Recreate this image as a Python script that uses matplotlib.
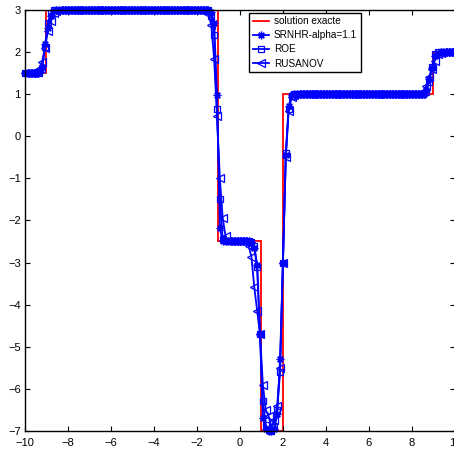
import matplotlib
matplotlib.use('Agg')
import matplotlib.pyplot as plt
import numpy as np

plt.rcParams['font.family'] = ['Liberation Sans', 'DejaVu Sans']

# solution exacte : paliers constants entre les discontinuites
bords = [-10, -9, -1, 1, 2, 9, 10]
paliers = [1.5, 3.0, -2.5, -7.0, 1.0, 2.0]

# maillage des schemas numeriques (151 noeuds sur [-10, 10])
x = np.linspace(-10, 10, 151)

srnhr = [
    1.5, 1.5, 1.5, 1.5, 1.5, 1.52, 1.65, 2.2, 2.57, 2.85,
    2.97, 3.0, 3.0, 3.0, 3.0, 3.0, 3.0, 3.0, 3.0, 3.0,
    3.0, 3.0, 3.0, 3.0, 3.0, 3.0, 3.0, 3.0, 3.0, 3.0,
    3.0, 3.0, 3.0, 3.0, 3.0, 3.0, 3.0, 3.0, 3.0, 3.0,
    3.0, 3.0, 3.0, 3.0, 3.0, 3.0, 3.0, 3.0, 3.0, 3.0,
    3.0, 3.0, 3.0, 3.0, 3.0, 3.0, 3.0, 3.0, 3.0, 3.0,
    3.0, 3.0, 3.0, 3.0, 3.0, 2.95, 2.7, 0.98, -2.19, -2.5,
    -2.5, -2.5, -2.5, -2.5, -2.5, -2.5, -2.5, -2.5, -2.5, -2.52,
    -2.66, -3.05, -4.7, -6.7, -6.95, -7.0, -7.0, -6.95, -6.6, -5.3,
    -3.0, -0.45, 0.72, 0.97, 1.0, 1.0, 1.0, 1.0, 1.0, 1.0,
    1.0, 1.0, 1.0, 1.0, 1.0, 1.0, 1.0, 1.0, 1.0, 1.0,
    1.0, 1.0, 1.0, 1.0, 1.0, 1.0, 1.0, 1.0, 1.0, 1.0,
    1.0, 1.0, 1.0, 1.0, 1.0, 1.0, 1.0, 1.0, 1.0, 1.0,
    1.0, 1.0, 1.0, 1.0, 1.0, 1.0, 1.0, 1.0, 1.0, 1.02,
    1.1, 1.35, 1.62, 1.9, 1.99, 2.0, 2.0, 2.0, 2.0, 2.0,
    2.0,
]

roe = [
    1.5, 1.5, 1.5, 1.5, 1.5, 1.51, 1.6, 2.13, 2.7, 2.92,
    2.99, 3.0, 3.0, 3.0, 3.0, 3.0, 3.0, 3.0, 3.0, 3.0,
    3.0, 3.0, 3.0, 3.0, 3.0, 3.0, 3.0, 3.0, 3.0, 3.0,
    3.0, 3.0, 3.0, 3.0, 3.0, 3.0, 3.0, 3.0, 3.0, 3.0,
    3.0, 3.0, 3.0, 3.0, 3.0, 3.0, 3.0, 3.0, 3.0, 3.0,
    3.0, 3.0, 3.0, 3.0, 3.0, 3.0, 3.0, 3.0, 3.0, 3.0,
    3.0, 3.0, 3.0, 3.0, 3.0, 2.85, 2.41, 0.64, -1.5, -2.45,
    -2.5, -2.5, -2.5, -2.5, -2.5, -2.5, -2.5, -2.5, -2.5, -2.52,
    -2.6, -3.1, -4.7, -6.3, -6.85, -6.98, -7.0, -6.9, -6.5, -5.6,
    -3.0, -0.4, 0.65, 0.96, 1.0, 1.0, 1.0, 1.0, 1.0, 1.0,
    1.0, 1.0, 1.0, 1.0, 1.0, 1.0, 1.0, 1.0, 1.0, 1.0,
    1.0, 1.0, 1.0, 1.0, 1.0, 1.0, 1.0, 1.0, 1.0, 1.0,
    1.0, 1.0, 1.0, 1.0, 1.0, 1.0, 1.0, 1.0, 1.0, 1.0,
    1.0, 1.0, 1.0, 1.0, 1.0, 1.0, 1.0, 1.0, 1.0, 1.0,
    1.05, 1.3, 1.65, 1.95, 2.0, 2.0, 2.0, 2.0, 2.0, 2.0,
    2.0,
]

rusanov = [
    1.5, 1.5, 1.5, 1.5, 1.52, 1.6, 1.77, 2.1, 2.5, 2.75,
    2.92, 2.98, 3.0, 3.0, 3.0, 3.0, 3.0, 3.0, 3.0, 3.0,
    3.0, 3.0, 3.0, 3.0, 3.0, 3.0, 3.0, 3.0, 3.0, 3.0,
    3.0, 3.0, 3.0, 3.0, 3.0, 3.0, 3.0, 3.0, 3.0, 3.0,
    3.0, 3.0, 3.0, 3.0, 3.0, 3.0, 3.0, 3.0, 3.0, 3.0,
    3.0, 3.0, 3.0, 3.0, 3.0, 3.0, 3.0, 3.0, 3.0, 3.0,
    3.0, 3.0, 3.0, 2.98, 2.9, 2.64, 1.83, 0.47, -1.0, -1.95,
    -2.38, -2.5, -2.5, -2.5, -2.5, -2.5, -2.5, -2.52, -2.6, -2.86,
    -3.58, -4.15, -4.7, -5.9, -6.5, -6.65, -6.9, -6.75, -6.4, -5.5,
    -3.0, -0.5, 0.6, 0.93, 0.99, 1.0, 1.0, 1.0, 1.0, 1.0,
    1.0, 1.0, 1.0, 1.0, 1.0, 1.0, 1.0, 1.0, 1.0, 1.0,
    1.0, 1.0, 1.0, 1.0, 1.0, 1.0, 1.0, 1.0, 1.0, 1.0,
    1.0, 1.0, 1.0, 1.0, 1.0, 1.0, 1.0, 1.0, 1.0, 1.0,
    1.0, 1.0, 1.0, 1.0, 1.0, 1.0, 1.0, 1.0, 1.0, 1.05,
    1.2, 1.42, 1.6, 1.8, 1.95, 1.99, 2.0, 2.0, 2.0, 2.0,
    2.0,
]

for nom, serie in [('srnhr', srnhr), ('roe', roe), ('rusanov', rusanov)]:
    if len(serie) != len(x):
        raise ValueError(nom + ' : %d valeurs' % len(serie))

fig = plt.figure(figsize=(4.54, 4.55), dpi=100)
ax = fig.add_axes([0.055, 0.053, 0.947, 0.925])

ax.stairs(paliers, bords, baseline=None, color='r', linewidth=1.3,
          label='solution exacte')
# asterisque facon matlab (+ et x superposes)
ax.plot(x, srnhr, 'b-', marker=(8, 2, 0), markersize=5.5, linewidth=1.3,
        markeredgewidth=0.9, clip_on=False, label='SRNHR-alpha=1.1')
ax.plot(x, roe, 'b-', marker='s', markersize=4.3, linewidth=1.3,
        markerfacecolor='none', markeredgewidth=0.9, clip_on=False, label='ROE')
ax.plot(x, rusanov, 'b-', marker='<', markersize=5.2, linewidth=1.3,
        markerfacecolor='none', markeredgewidth=0.9, clip_on=False, label='RUSANOV')

ax.set_xlim(-10, 10)
ax.set_ylim(-7, 3)
ax.set_xticks(np.arange(-10, 11, 2))
ax.set_yticks(np.arange(-7, 4, 1))
ax.tick_params(direction='in', top=True, right=True, length=3.5, width=0.8,
               labelsize=8)
ax.tick_params(axis='x', pad=5)
ax.tick_params(axis='y', pad=3)
for s in ax.spines.values():
    s.set_linewidth(1.0)

leg = ax.legend(loc='upper left', bbox_to_anchor=(0.522, 0.994),
                borderaxespad=0, fancybox=False, edgecolor='k', framealpha=1,
                fontsize=7.2, handlelength=1.6, handletextpad=0.5,
                labelspacing=0.42, borderpad=0.35)
leg.get_frame().set_linewidth(1.0)

fig.savefig('out.png', dpi=100)
